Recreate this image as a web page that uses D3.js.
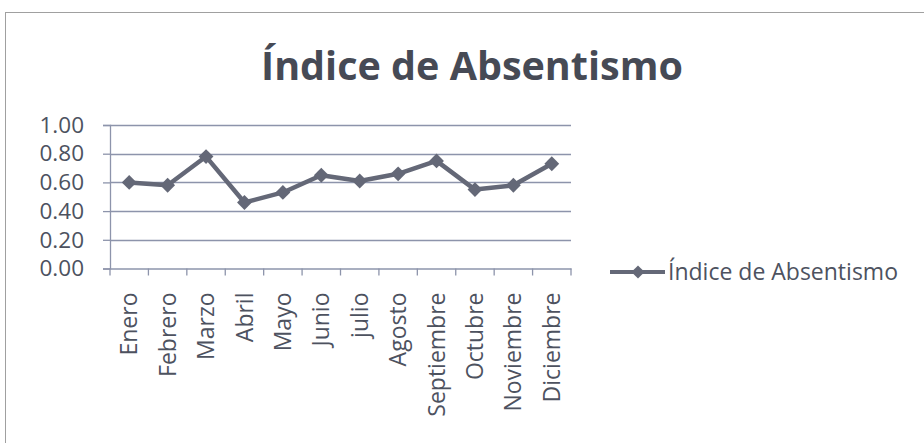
<!DOCTYPE html>
<html>
<head>
<meta charset="utf-8">
<script src="https://cdn.jsdelivr.net/npm/d3@7"></script>
<style>
  body { margin: 0; background: #fff; }
  svg text { font-family: "Open Sans", sans-serif; fill: #4d525f; }
</style>
</head>
<body>
<svg id="chart" width="924" height="443"></svg>
<script>
const months = ['Enero', 'Febrero', 'Marzo', 'Abril', 'Mayo', 'Junio', 'julio',
  'Agosto', 'Septiembre', 'Octubre', 'Noviembre', 'Diciembre'];
const values = [0.60, 0.58, 0.78, 0.46, 0.53, 0.65, 0.61, 0.66, 0.75, 0.55, 0.58, 0.73];
const yTicks = [0, 0.2, 0.4, 0.6, 0.8, 1.0];
const title = 'Índice de Absentismo';
const seriesName = 'Índice de Absentismo';

const svg = d3.select('#chart');
const lineColor = '#646877';
const gridColor = '#8d94ab';

// outer frame
svg.append('rect')
  .attr('x', 5.5).attr('y', 12.5)
  .attr('width', 940).attr('height', 460)
  .attr('fill', 'none')
  .attr('stroke', '#a0a0a0')
  .attr('stroke-width', 1);

svg.append('text')
  .attr('x', 472).attr('y', 80)
  .attr('text-anchor', 'middle')
  .style('font-size', '39.5px')
  .style('font-weight', 'bold')
  .style('fill', '#464a55')
  .text(title);

const margin = { left: 110, top: 125, right: 571, bottom: 268.5 };

const x = d3.scaleBand()
  .domain(months)
  .range([margin.left, margin.right]);

const y = d3.scaleLinear()
  .domain([0, 1])
  .range([margin.bottom, margin.top]);

// gridlines
svg.append('g')
  .selectAll('line')
  .data(yTicks.slice(1))
  .join('line')
  .attr('x1', margin.left).attr('x2', margin.right)
  .attr('y1', d => Math.round(y(d)) + 0.5).attr('y2', d => Math.round(y(d)) + 0.5)
  .attr('stroke', gridColor)
  .attr('stroke-width', 1.3);

// y axis
const yAxis = svg.append('g')
  .attr('transform', `translate(${margin.left},0)`)
  .call(d3.axisLeft(y).tickValues(yTicks).tickFormat(d3.format('.2f')).tickSize(7).tickPadding(19));
yAxis.select('.domain').attr('stroke', gridColor).attr('stroke-width', 1.3);
yAxis.selectAll('line').attr('stroke', gridColor).attr('stroke-width', 1.3);
yAxis.selectAll('text').style('font-size', '22.5px').attr('fill', '#4d525f');

// x axis
const xAxis = svg.append('g')
  .attr('transform', `translate(0,${margin.bottom})`)
  .call(d3.axisBottom(x).tickSize(0).tickSizeOuter(0));
xAxis.select('.domain').attr('stroke', gridColor).attr('stroke-width', 1.3);
// tick marks at category boundaries
xAxis.selectAll('line.bound')
  .data(d3.range(months.length + 1))
  .join('line')
  .attr('class', 'bound')
  .attr('x1', i => margin.left + i * x.step())
  .attr('x2', i => margin.left + i * x.step())
  .attr('y1', 0).attr('y2', 7)
  .attr('stroke', gridColor).attr('stroke-width', 1.3);
xAxis.selectAll('.tick text')
  .attr('transform', 'rotate(-90)')
  .attr('text-anchor', 'end')
  .attr('x', -24)
  .attr('y', 0)
  .attr('dy', '0.35em')
  .style('font-size', '23px')
  .attr('fill', '#4d525f');

const cx = d => x(d) + x.bandwidth() / 2;

const line = d3.line()
  .x((d, i) => cx(months[i]))
  .y(d => y(d));

svg.append('path')
  .datum(values)
  .attr('d', line)
  .attr('fill', 'none')
  .attr('stroke', lineColor)
  .attr('stroke-width', 4.5)
  .attr('stroke-linejoin', 'round');

const diamond = d3.symbol().type(d3.symbolDiamond2).size(140);

svg.append('g')
  .selectAll('path')
  .data(values)
  .join('path')
  .attr('d', diamond)
  .attr('transform', (d, i) => `translate(${cx(months[i])},${y(d)})`)
  .attr('fill', lineColor);

// legend
const lg = svg.append('g').attr('transform', 'translate(610,272)');
lg.append('line')
  .attr('x1', 0).attr('x2', 55)
  .attr('stroke', lineColor).attr('stroke-width', 4);
lg.append('path')
  .attr('d', d3.symbol().type(d3.symbolDiamond2).size(110))
  .attr('transform', 'translate(28,0)')
  .attr('fill', lineColor);
lg.append('text')
  .attr('x', 58).attr('y', 0).attr('dy', '0.35em')
  .style('font-size', '23px')
  .text(seriesName);
</script>
</body>
</html>
